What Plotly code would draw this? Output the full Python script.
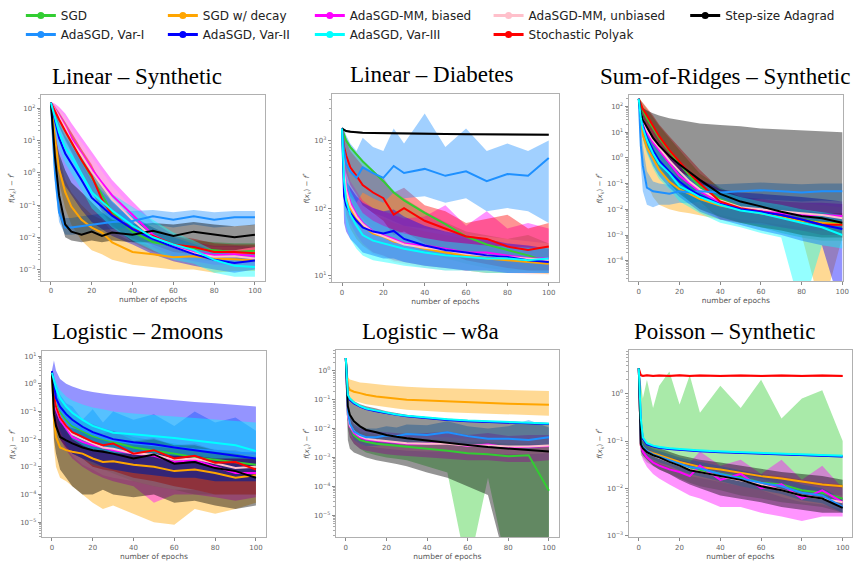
import math
import plotly.graph_objects as go

W, H = 863, 565

X = [0, 1, 2, 4, 7, 10, 15, 20, 25, 30, 40, 50, 60, 70, 80, 90, 100]

KEYS = ["sgd", "dec", "mmb", "mmu", "ada", "v1", "v2", "v3", "pol"]
NAMES = {"sgd": "SGD", "dec": "SGD w/ decay", "mmb": "AdaSGD-MM, biased",
         "mmu": "AdaSGD-MM, unbiased", "ada": "Step-size Adagrad",
         "v1": "AdaSGD, Var-I", "v2": "AdaSGD, Var-II", "v3": "AdaSGD, Var-III",
         "pol": "Stochastic Polyak"}
RGB = {"sgd": (50, 205, 50), "dec": (255, 165, 0), "mmb": (255, 0, 255),
       "mmu": (255, 192, 203), "ada": (0, 0, 0), "v1": (30, 144, 255),
       "v2": (0, 0, 255), "v3": (0, 255, 255), "pol": (255, 0, 0)}
DRAW_ORDER = ["sgd", "dec", "mmb", "mmu", "pol", "v1", "v2", "ada", "v3"]

TITLES = ["Linear – Synthetic", "Linear – Diabetes", "Sum-of-Ridges – Synthetic",
          "Logistic – 2moons", "Logistic – w8a", "Poisson – Synthetic"]

# ---------------- Panel 1: Linear - Synthetic ----------------
p1_sgd = [150, 110, 85, 50, 20, 9, 2.5, 0.7, 0.2, 0.06, 0.015, 0.007, 0.0055, 0.0045, 0.004, 0.0035, 0.0038]
p1_sgd_lo = [140, 80, 55, 28, 10, 4, 1.0, 0.25, 0.07, 0.025, 0.007, 0.0035, 0.0025, 0.002, 0.0018, 0.0015, 0.0016]
p1_sgd_hi = [160, 140, 120, 80, 38, 18, 5, 1.6, 0.5, 0.15, 0.03, 0.013, 0.01, 0.008, 0.007, 0.0065, 0.0065]
p1_dec = [150, 40, 12, 1.3, 0.25, 0.09, 0.035, 0.02, 0.014, 0.007, 0.0035, 0.003, 0.0024, 0.0026, 0.0022, 0.0021, 0.0019]
p1_dec_lo = [140, 20, 5, 0.5, 0.08, 0.025, 0.008, 0.004, 0.003, 0.002, 0.0014, 0.0012, 0.001, 0.001, 0.0008, 0.0009, 0.0009]
p1_dec_hi = [160, 70, 25, 3, 0.6, 0.25, 0.1, 0.05, 0.035, 0.015, 0.007, 0.0055, 0.0045, 0.0045, 0.004, 0.0038, 0.0035]
p1_mmb = [150, 120, 95, 60, 28, 12, 4, 1.3, 0.5, 0.2, 0.05, 0.012, 0.0055, 0.0035, 0.0028, 0.003, 0.0026]
p1_mmb_lo = [140, 90, 65, 35, 14, 5.5, 1.6, 0.45, 0.15, 0.06, 0.018, 0.005, 0.0025, 0.0018, 0.0014, 0.0014, 0.0013]
p1_mmb_hi = [160, 150, 140, 110, 70, 35, 13, 4.5, 1.6, 0.6, 0.13, 0.03, 0.012, 0.007, 0.0055, 0.0055, 0.005]
p1_mmu = [150, 115, 90, 55, 25, 10, 3.5, 1.1, 0.4, 0.15, 0.035, 0.01, 0.005, 0.0032, 0.0025, 0.0026, 0.0022]
p1_mmu_lo = [140, 85, 60, 30, 12, 4.5, 1.3, 0.35, 0.12, 0.05, 0.014, 0.004, 0.0022, 0.0016, 0.0012, 0.0012, 0.0011]
p1_mmu_hi = [160, 145, 130, 100, 55, 25, 9, 3, 1.1, 0.4, 0.08, 0.022, 0.01, 0.006, 0.005, 0.005, 0.0045]
p1_ada = [150, 20, 3, 0.2, 0.025, 0.015, 0.012, 0.015, 0.011, 0.014, 0.012, 0.016, 0.011, 0.015, 0.012, 0.01, 0.012]
p1_ada_lo = [140, 8, 1, 0.05, 0.01, 0.008, 0.007, 0.008, 0.007, 0.008, 0.007, 0.007, 0.005, 0.005, 0.004, 0.004, 0.005]
p1_ada_hi = [160, 60, 15, 4, 1.2, 0.5, 0.25, 0.12, 0.06, 0.035, 0.025, 0.028, 0.025, 0.03, 0.025, 0.022, 0.025]
p1_v1 = [150, 10, 1.0, 0.06, 0.02, 0.02, 0.022, 0.025, 0.028, 0.03, 0.032, 0.045, 0.035, 0.045, 0.035, 0.042, 0.042]
p1_v1_lo = [140, 4, 0.4, 0.03, 0.012, 0.012, 0.013, 0.015, 0.017, 0.018, 0.02, 0.025, 0.02, 0.025, 0.02, 0.022, 0.024]
p1_v1_hi = [160, 30, 3, 0.12, 0.04, 0.04, 0.045, 0.05, 0.055, 0.06, 0.065, 0.07, 0.06, 0.07, 0.06, 0.065, 0.065]
p1_v2 = [150, 80, 40, 12, 4, 2, 0.6, 0.17, 0.09, 0.047, 0.018, 0.009, 0.005, 0.003, 0.002, 0.0016, 0.0019]
p1_v2_lo = [140, 30, 8, 1.5, 0.4, 0.2, 0.07, 0.03, 0.018, 0.011, 0.006, 0.003, 0.0018, 0.0013, 0.001, 0.0008, 0.001]
p1_v2_hi = [160, 120, 80, 35, 14, 7, 2.2, 0.6, 0.28, 0.13, 0.045, 0.02, 0.01, 0.006, 0.0038, 0.003, 0.003]
p1_v3 = [150, 90, 50, 18, 6, 3.4, 0.9, 0.25, 0.13, 0.068, 0.023, 0.01, 0.006, 0.004, 0.002, 0.0013, 0.0012]
p1_v3_lo = [140, 50, 20, 6, 2, 1, 0.3, 0.08, 0.04, 0.02, 0.008, 0.004, 0.002, 0.0015, 0.0008, 0.0006, 0.0006]
p1_v3_hi = [160, 130, 100, 45, 18, 10, 3.5, 1.0, 0.45, 0.22, 0.09, 0.035, 0.014, 0.008, 0.004, 0.003, 0.003]
p1_pol = [150, 110, 80, 45, 20, 9, 2.5, 0.8, 0.15, 0.05, 0.018, 0.011, 0.006, 0.005, 0.0035, 0.0035, 0.0032]
p1_pol_lo = [140, 80, 55, 28, 11, 4.5, 1.1, 0.3, 0.06, 0.022, 0.009, 0.006, 0.0035, 0.003, 0.002, 0.002, 0.0018]
p1_pol_hi = [160, 140, 110, 75, 38, 18, 5.5, 1.8, 0.4, 0.12, 0.035, 0.02, 0.011, 0.009, 0.0065, 0.006, 0.006]

# ---------------- Panel 2: Linear - Diabetes ----------------
p2_sgd = [1500, 1200, 1000, 800, 620, 490, 350, 250, 170, 130, 85, 58, 38, 29, 24, 20, 16]
p2_sgd_lo = [1400, 400, 250, 150, 90, 70, 50, 40, 33, 28, 22, 18, 15, 13, 12, 12, 11]
p2_sgd_hi = [1600, 1300, 1100, 850, 650, 520, 370, 260, 180, 140, 90, 62, 45, 40, 35, 40, 30]
p2_dec = [1500, 300, 150, 100, 70, 55, 42, 38, 32, 30, 25, 22, 20, 18, 17, 16, 15]
p2_dec_lo = [1400, 150, 80, 50, 35, 28, 22, 20, 17, 16, 14, 13, 12, 11, 11, 11, 10.5]
p2_dec_hi = [1600, 600, 300, 200, 140, 110, 80, 70, 60, 55, 45, 40, 35, 32, 30, 28, 26]
p2_mmb = [1500, 400, 200, 120, 80, 60, 45, 40, 35, 30, 28, 25, 22, 22, 20, 18, 18]
p2_mmb_lo = [1400, 200, 100, 60, 40, 30, 22, 20, 17, 16, 14, 13, 12, 12, 11, 11, 11]
p2_mmb_hi = [1600, 800, 400, 250, 180, 130, 100, 90, 80, 70, 75, 110, 55, 90, 50, 60, 50]
p2_mmu = [1500, 350, 180, 110, 75, 58, 44, 38, 33, 29, 26, 24, 21, 20, 19, 18, 17]
p2_mmu_lo = [1400, 180, 90, 55, 38, 28, 21, 19, 16, 15, 13, 12, 12, 11, 11, 10.5, 10.5]
p2_mmu_hi = [1600, 700, 350, 220, 150, 110, 85, 75, 65, 55, 50, 45, 40, 38, 35, 33, 30]
p2_ada = [1500, 1420, 1380, 1350, 1320, 1300, 1290, 1280, 1270, 1260, 1250, 1245, 1240, 1235, 1230, 1225, 1220]
p2_ada_lo = [1450, 1370, 1330, 1300, 1280, 1260, 1250, 1240, 1230, 1220, 1210, 1205, 1200, 1195, 1190, 1185, 1180]
p2_ada_hi = [1550, 1470, 1430, 1400, 1360, 1340, 1330, 1320, 1310, 1300, 1290, 1285, 1280, 1275, 1270, 1265, 1260]
p2_v1 = [1500, 700, 450, 350, 280, 400, 330, 280, 420, 330, 380, 300, 350, 250, 320, 300, 550]
p2_v1_lo = [1400, 300, 200, 150, 120, 170, 140, 120, 170, 140, 150, 120, 140, 90, 100, 90, 60]
p2_v1_hi = [1600, 1500, 1200, 900, 700, 1100, 800, 700, 1500, 900, 2500, 800, 1500, 700, 900, 700, 1000]
p2_v2 = [1500, 150, 110, 85, 65, 52, 45, 42, 46, 35, 28, 24, 22, 20, 19, 17, 16]
p2_v2_lo = [1400, 60, 45, 35, 28, 22, 20, 18, 18, 16, 14, 13, 12, 12, 11, 11, 11]
p2_v2_hi = [1600, 350, 250, 200, 150, 120, 100, 90, 95, 75, 55, 45, 40, 35, 30, 28, 25]
p2_v3 = [1500, 250, 130, 80, 55, 40, 33, 30, 27, 25, 22, 20, 19, 18, 18, 17, 18]
p2_v3_lo = [1400, 100, 55, 35, 25, 20, 17, 16, 15, 14, 13, 12, 12, 11, 11, 11, 11]
p2_v3_hi = [1600, 500, 300, 180, 120, 85, 65, 55, 48, 42, 36, 32, 30, 28, 27, 26, 26]
p2_pol = [1500, 800, 600, 400, 300, 220, 170, 140, 80, 100, 65, 50, 38, 35, 27, 24, 27]
p2_pol_lo = [1400, 450, 330, 220, 160, 110, 85, 65, 40, 45, 30, 22, 17, 15, 13, 12, 12]
p2_pol_hi = [1600, 1200, 1000, 700, 550, 420, 330, 280, 170, 200, 110, 90, 60, 70, 80, 50, 60]

# ---------------- Panel 3: Sum-of-Ridges - Synthetic ----------------
p3_sgd = [200, 110, 70, 35, 14, 6, 1.8, 0.6, 0.2, 0.08, 0.025, 0.012, 0.008, 0.005, 0.004, 0.003, 0.0028]
p3_sgd_lo = [180, 50, 25, 10, 3.5, 1.3, 0.35, 0.1, 0.035, 0.015, 0.005, 0.003, 0.002, 0.0012, 0.0008, 0.0006, 0.0006]
p3_sgd_hi = [220, 170, 130, 80, 40, 18, 6, 2, 0.7, 0.25, 0.07, 0.03, 0.018, 0.012, 0.009, 0.007, 0.006]
p3_dec = [200, 30, 8, 2.5, 0.9, 0.35, 0.12, 0.06, 0.04, 0.025, 0.014, 0.01, 0.007, 0.005, 0.0035, 0.003, 0.0025]
p3_dec_lo = [180, 5, 0.8, 0.1, 0.03, 0.015, 0.01, 0.008, 0.007, 0.006, 0.004, 0.003, 0.002, 0.0015, 0.001, 1e-6, 0.0008]
p3_dec_hi = [220, 120, 50, 18, 7, 3, 1, 0.4, 0.2, 0.1, 0.04, 0.025, 0.018, 0.012, 0.008, 0.007, 0.006]
p3_mmb = [200, 50, 25, 10, 4, 2, 0.6, 0.2, 0.1, 0.05, 0.018, 0.01, 0.009, 0.007, 0.006, 0.006, 0.0055]
p3_mmb_lo = [180, 20, 8, 3, 1, 0.5, 0.15, 0.05, 0.02, 0.01, 0.004, 0.003, 0.0025, 0.002, 0.0015, 0.0015, 0.0015]
p3_mmb_hi = [220, 100, 60, 25, 12, 6, 2, 0.7, 0.3, 0.15, 0.05, 0.03, 0.025, 0.02, 0.018, 0.018, 0.016]
p3_mmu = [200, 60, 30, 12, 5, 2.5, 0.8, 0.3, 0.12, 0.06, 0.022, 0.012, 0.01, 0.008, 0.007, 0.006, 0.0045]
p3_mmu_lo = [180, 25, 10, 4, 1.5, 0.7, 0.2, 0.07, 0.03, 0.015, 0.006, 0.004, 0.003, 0.0025, 0.002, 0.002, 0.0015]
p3_mmu_hi = [220, 120, 70, 30, 14, 7, 2.5, 0.9, 0.4, 0.18, 0.06, 0.03, 0.025, 0.02, 0.018, 0.015, 0.012]
p3_ada = [200, 60, 30, 15, 6, 3, 1.2, 0.55, 0.27, 0.14, 0.04, 0.02, 0.013, 0.008, 0.0055, 0.0045, 0.003]
p3_ada_lo = [180, 20, 8, 3, 1, 0.4, 0.1, 0.04, 0.02, 0.01, 0.005, 0.003, 0.002, 0.0015, 0.001, 0.0008, 0.0008]
p3_ada_hi = [220, 110, 90, 70, 55, 45, 35, 30, 26, 22, 19, 17, 14, 13, 12, 11, 10]
p3_v1 = [200, 3, 0.5, 0.07, 0.05, 0.045, 0.04, 0.05, 0.045, 0.05, 0.045, 0.05, 0.055, 0.05, 0.045, 0.05, 0.05]
p3_v1_lo = [180, 0.5, 0.05, 0.015, 0.012, 0.015, 0.015, 0.018, 0.017, 0.02, 0.02, 0.022, 0.025, 0.022, 0.02, 0.022, 0.02]
p3_v1_hi = [220, 15, 3, 0.3, 0.12, 0.1, 0.09, 0.1, 0.095, 0.1, 0.095, 0.1, 0.11, 0.1, 0.095, 0.1, 0.1]
p3_v2 = [200, 40, 18, 6, 2, 0.8, 0.3, 0.12, 0.06, 0.035, 0.016, 0.01, 0.008, 0.006, 0.004, 0.0025, 0.0017]
p3_v2_lo = [180, 15, 6, 1.8, 0.5, 0.2, 0.07, 0.03, 0.015, 0.008, 0.004, 0.0025, 0.0015, 0.001, 0.0006, 0.0004, 1e-6]
p3_v2_hi = [220, 90, 45, 18, 7, 3, 1.2, 0.5, 0.25, 0.15, 0.06, 0.045, 0.04, 0.035, 0.03, 0.025, 0.02]
p3_v3 = [200, 35, 15, 5, 1.5, 0.6, 0.25, 0.08, 0.05, 0.03, 0.015, 0.009, 0.007, 0.0045, 0.003, 0.002, 0.001]
p3_v3_lo = [180, 12, 5, 1.5, 0.4, 0.15, 0.06, 0.02, 0.012, 0.007, 0.003, 0.002, 0.0012, 0.0008, 1e-6, 0.0004, 0.0003]
p3_v3_hi = [220, 80, 40, 15, 5, 2, 0.8, 0.3, 0.18, 0.1, 0.05, 0.03, 0.02, 0.015, 0.01, 0.008, 0.006]
p3_pol = [200, 120, 80, 45, 18, 7, 2, 0.7, 0.25, 0.1, 0.02, 0.011, 0.008, 0.006, 0.004, 0.0025, 0.0025]
p3_pol_lo = [180, 70, 40, 18, 6, 2, 0.5, 0.15, 0.05, 0.02, 0.004, 0.003, 0.003, 0.002, 0.0015, 0.001, 0.001]
p3_pol_hi = [220, 180, 140, 90, 45, 20, 7, 2.5, 0.9, 0.35, 0.06, 0.03, 0.02, 0.015, 0.01, 0.007, 0.007]

# ---------------- Panel 4: Logistic - 2moons ----------------
p4_sgd = [2.5, 0.8, 0.3, 0.1, 0.05, 0.03, 0.02, 0.013, 0.01, 0.008, 0.005, 0.0038, 0.003, 0.0022, 0.0018, 0.0014, 0.0012]
p4_sgd_lo = [2.3, 0.2, 0.06, 0.02, 0.008, 0.004, 0.002, 0.001, 0.0008, 0.0006, 0.0003, 0.0002, 0.00015, 0.0001, 0.0001, 0.0001, 0.0001]
p4_sgd_hi = [2.7, 1.5, 0.7, 0.3, 0.15, 0.08, 0.05, 0.035, 0.025, 0.02, 0.012, 0.009, 0.007, 0.005, 0.004, 0.0035, 0.003]
p4_dec = [2.5, 0.05, 0.012, 0.005, 0.004, 0.0035, 0.003, 0.002, 0.0015, 0.0016, 0.0012, 0.001, 0.0007, 0.0008, 0.0006, 0.0004, 0.0005]
p4_dec_lo = [2.3, 0.005, 0.001, 0.0004, 0.0003, 0.0002, 0.0001, 0.00005, 0.00003, 0.00004, 0.00002, 0.00001, 0.000008, 0.00003, 0.00002, 0.00003, 0.00005]
p4_dec_hi = [2.7, 0.15, 0.04, 0.015, 0.012, 0.01, 0.009, 0.006, 0.005, 0.005, 0.004, 0.0035, 0.0025, 0.003, 0.0022, 0.0018, 0.002]
p4_mmb = [2.5, 0.4, 0.12, 0.05, 0.025, 0.012, 0.008, 0.006, 0.005, 0.004, 0.003, 0.0025, 0.0015, 0.0018, 0.001, 0.0006, 0.0006]
p4_mmb_lo = [2.3, 0.1, 0.03, 0.01, 0.004, 0.002, 0.001, 0.0006, 0.0004, 0.0003, 0.0002, 0.00005, 0.0001, 0.0001, 0.00008, 0.00006, 0.00008]
p4_mmb_hi = [2.7, 1.0, 0.35, 0.15, 0.08, 0.04, 0.025, 0.018, 0.014, 0.011, 0.008, 0.007, 0.005, 0.006, 0.004, 0.003, 0.003]
p4_mmu = [2.5, 0.5, 0.15, 0.06, 0.03, 0.015, 0.01, 0.007, 0.005, 0.0045, 0.003, 0.0028, 0.0018, 0.002, 0.0013, 0.0009, 0.001]
p4_mmu_lo = [2.3, 0.12, 0.04, 0.012, 0.005, 0.0025, 0.0012, 0.0008, 0.0005, 0.0004, 0.0003, 0.0002, 0.00015, 0.00015, 0.0001, 0.0001, 0.0001]
p4_mmu_hi = [2.7, 1.2, 0.4, 0.18, 0.09, 0.05, 0.03, 0.02, 0.015, 0.012, 0.009, 0.008, 0.006, 0.006, 0.0045, 0.0035, 0.0035]
p4_ada = [2.5, 0.08, 0.03, 0.012, 0.009, 0.007, 0.005, 0.004, 0.0035, 0.003, 0.002, 0.0028, 0.0013, 0.0015, 0.0009, 0.0007, 0.0004]
p4_ada_lo = [2.3, 0.01, 0.003, 0.0008, 0.0004, 0.0002, 0.0001, 0.0001, 0.00015, 0.0001, 0.00008, 0.0001, 0.00005, 0.00006, 0.00004, 0.00003, 0.00004]
p4_ada_hi = [2.7, 0.3, 0.1, 0.04, 0.03, 0.025, 0.02, 0.015, 0.012, 0.01, 0.008, 0.01, 0.006, 0.006, 0.004, 0.003, 0.002]
p4_v1 = [2.5, 0.9, 0.35, 0.12, 0.06, 0.035, 0.022, 0.015, 0.011, 0.009, 0.007, 0.006, 0.005, 0.0042, 0.0038, 0.0032, 0.003]
p4_v1_lo = [2.3, 0.3, 0.08, 0.02, 0.006, 0.003, 0.002, 0.0012, 0.001, 0.0008, 0.0006, 0.0005, 0.0004, 0.0004, 0.0003, 0.0003, 0.0003]
p4_v1_hi = [2.7, 2, 1, 0.4, 0.2, 0.15, 0.05, 0.12, 0.04, 0.1, 0.05, 0.08, 0.03, 0.1, 0.04, 0.06, 0.02]
p4_v2 = [2.9, 0.8, 0.3, 0.15, 0.08, 0.05, 0.028, 0.018, 0.013, 0.01, 0.0078, 0.0065, 0.005, 0.004, 0.0032, 0.0026, 0.002]
p4_v2_lo = [2.5, 0.1, 0.03, 0.01, 0.005, 0.003, 0.002, 0.0015, 0.001, 0.0008, 0.0006, 0.0005, 0.0004, 0.0004, 0.0003, 0.0003, 0.0003]
p4_v2_hi = [3, 7, 3, 1.5, 1.0, 0.8, 0.6, 0.5, 0.45, 0.4, 0.35, 0.3, 0.25, 0.22, 0.2, 0.17, 0.15]
p4_v3 = [2.5, 1.2, 0.7, 0.3, 0.15, 0.09, 0.05, 0.03, 0.022, 0.017, 0.015, 0.013, 0.011, 0.009, 0.0075, 0.006, 0.0037]
p4_v3_lo = [2.3, 0.5, 0.2, 0.05, 0.02, 0.01, 0.006, 0.004, 0.004, 0.003, 0.003, 0.003, 0.0025, 0.0025, 0.002, 0.002, 0.002]
p4_v3_hi = [2.7, 2, 1.2, 0.6, 0.35, 0.25, 0.18, 0.14, 0.12, 0.1, 0.085, 0.075, 0.065, 0.058, 0.05, 0.045, 0.04]
p4_pol = [2.5, 0.4, 0.15, 0.06, 0.03, 0.018, 0.012, 0.008, 0.006, 0.007, 0.003, 0.004, 0.002, 0.0025, 0.0014, 0.0015, 0.0008]
p4_pol_lo = [2.3, 0.1, 0.03, 0.01, 0.005, 0.003, 0.002, 0.001, 0.0008, 0.0007, 0.0004, 0.0003, 0.0002, 0.00015, 0.0001, 0.0001, 0.0001]
p4_pol_hi = [2.7, 1.0, 0.4, 0.15, 0.08, 0.05, 0.03, 0.02, 0.016, 0.02, 0.009, 0.011, 0.006, 0.007, 0.004, 0.004, 0.0025]

# ---------------- Panel 5: Logistic - w8a ----------------
p5_sgd = [2.8, 0.03, 0.012, 0.006, 0.004, 0.0035, 0.003, 0.0028, 0.0025, 0.0024, 0.002, 0.0017, 0.0014, 0.0013, 0.0011, 0.0012, 0.00007]
p5_sgd_lo = [2.7, 0.01, 0.005, 0.003, 0.002, 0.0015, 0.0012, 0.001, 0.0009, 0.0008, 0.0005, 0.0003, 1e-7, 0.0002, 1e-7, 1e-7, 1e-7]
p5_sgd_hi = [2.9, 0.06, 0.025, 0.012, 0.008, 0.007, 0.006, 0.0055, 0.005, 0.005, 0.0045, 0.004, 0.0035, 0.0035, 0.003, 0.003, 0.0025]
p5_dec = [2.8, 0.3, 0.22, 0.19, 0.17, 0.15, 0.13, 0.12, 0.11, 0.1, 0.095, 0.088, 0.082, 0.078, 0.073, 0.07, 0.067]
p5_dec_lo = [2.7, 0.12, 0.1, 0.09, 0.08, 0.07, 0.06, 0.055, 0.05, 0.045, 0.04, 0.037, 0.035, 0.033, 0.031, 0.03, 0.028]
p5_dec_hi = [2.9, 0.6, 0.5, 0.45, 0.4, 0.38, 0.34, 0.32, 0.3, 0.28, 0.26, 0.25, 0.24, 0.22, 0.21, 0.21, 0.2]
p5_mmb = [2.8, 0.03, 0.012, 0.007, 0.005, 0.0042, 0.0038, 0.0035, 0.0033, 0.003, 0.003, 0.0032, 0.0025, 0.0028, 0.0022, 0.0024, 0.0025]
p5_mmb_lo = [2.7, 0.012, 0.005, 0.003, 0.002, 0.0017, 0.0015, 0.0013, 0.0012, 0.0011, 0.001, 0.0009, 0.0008, 0.0008, 0.0007, 0.0007, 0.0008]
p5_mmb_hi = [2.9, 0.06, 0.025, 0.014, 0.01, 0.009, 0.008, 0.0075, 0.007, 0.0065, 0.007, 0.008, 0.006, 0.007, 0.0055, 0.006, 0.006]
p5_mmu = [2.8, 0.035, 0.013, 0.008, 0.0055, 0.0045, 0.004, 0.0037, 0.0034, 0.0031, 0.003, 0.003, 0.0026, 0.0026, 0.0024, 0.0024, 0.0026]
p5_mmu_lo = [2.7, 0.015, 0.006, 0.004, 0.003, 0.0025, 0.0022, 0.002, 0.0019, 0.0017, 0.0016, 0.0016, 0.0014, 0.0014, 0.0013, 0.0013, 0.0014]
p5_mmu_hi = [2.9, 0.07, 0.025, 0.014, 0.009, 0.0075, 0.0068, 0.006, 0.0055, 0.005, 0.005, 0.005, 0.0045, 0.0045, 0.004, 0.004, 0.0045]
p5_ada = [2.8, 0.06, 0.03, 0.018, 0.012, 0.009, 0.0075, 0.006, 0.0052, 0.0046, 0.0039, 0.0032, 0.0027, 0.0023, 0.002, 0.0018, 0.0016]
p5_ada_lo = [2.7, 0.004, 0.002, 0.0015, 0.0012, 0.001, 0.0008, 0.0007, 0.0006, 0.0005, 0.0003, 0.0002, 0.0001, 0.00005, 1e-7, 1e-7, 1e-7]
p5_ada_hi = [2.9, 0.15, 0.12, 0.09, 0.07, 0.06, 0.05, 0.04, 0.035, 0.03, 0.025, 0.022, 0.02, 0.018, 0.016, 0.015, 0.015]
p5_v1 = [2.8, 0.04, 0.015, 0.008, 0.006, 0.005, 0.005, 0.0058, 0.0055, 0.0065, 0.006, 0.0075, 0.0055, 0.0045, 0.0045, 0.004, 0.005]
p5_v1_lo = [2.7, 0.02, 0.008, 0.004, 0.003, 0.0025, 0.0025, 0.003, 0.0028, 0.0032, 0.003, 0.0035, 0.0027, 0.0022, 0.0022, 0.002, 0.0025]
p5_v1_hi = [2.9, 0.08, 0.03, 0.015, 0.012, 0.01, 0.01, 0.012, 0.011, 0.014, 0.013, 0.018, 0.012, 0.01, 0.012, 0.02, 0.011]
p5_v2 = [2.8, 0.14, 0.1, 0.075, 0.058, 0.048, 0.04, 0.034, 0.03, 0.027, 0.023, 0.02, 0.018, 0.017, 0.016, 0.015, 0.0145]
p5_v2_lo = [2.7, 0.13, 0.095, 0.071, 0.055, 0.046, 0.038, 0.032, 0.028, 0.026, 0.022, 0.019, 0.017, 0.016, 0.015, 0.014, 0.0138]
p5_v2_hi = [2.9, 0.15, 0.105, 0.079, 0.061, 0.05, 0.042, 0.036, 0.032, 0.028, 0.024, 0.021, 0.019, 0.018, 0.017, 0.016, 0.0152]
p5_v3 = [2.8, 0.15, 0.11, 0.08, 0.06, 0.05, 0.042, 0.035, 0.031, 0.028, 0.024, 0.021, 0.019, 0.018, 0.017, 0.016, 0.015]
p5_v3_lo = [2.7, 0.14, 0.1, 0.076, 0.057, 0.048, 0.04, 0.033, 0.029, 0.027, 0.023, 0.02, 0.018, 0.017, 0.016, 0.015, 0.0143]
p5_v3_hi = [2.9, 0.16, 0.115, 0.084, 0.063, 0.053, 0.044, 0.037, 0.033, 0.029, 0.025, 0.022, 0.02, 0.019, 0.018, 0.017, 0.0158]

# ---------------- Panel 6: Poisson - Synthetic ----------------
p6_sgd = [3.5, 0.09, 0.075, 0.06, 0.05, 0.045, 0.038, 0.032, 0.026, 0.024, 0.02, 0.017, 0.013, 0.012, 0.009, 0.008, 0.006]
p6_sgd_lo = [3.4, 0.05, 0.045, 0.035, 0.03, 0.025, 0.02, 0.016, 0.013, 0.011, 0.009, 0.007, 0.006, 0.005, 0.0045, 0.004, 0.003]
p6_sgd_hi = [3.6, 1.5, 0.8, 2.0, 0.5, 1.5, 3.0, 0.6, 2.5, 0.4, 1.5, 0.5, 2.0, 0.3, 0.8, 1.2, 0.1]
p6_dec = [3.5, 0.08, 0.07, 0.062, 0.055, 0.05, 0.042, 0.036, 0.032, 0.028, 0.025, 0.021, 0.018, 0.016, 0.014, 0.012, 0.011]
p6_dec_lo = [3.4, 0.075, 0.065, 0.058, 0.051, 0.046, 0.039, 0.033, 0.029, 0.026, 0.023, 0.019, 0.016, 0.014, 0.013, 0.011, 0.01]
p6_dec_hi = [3.6, 0.085, 0.075, 0.066, 0.059, 0.054, 0.045, 0.039, 0.035, 0.03, 0.027, 0.023, 0.02, 0.018, 0.015, 0.013, 0.012]
p6_mmb = [3.5, 0.08, 0.06, 0.045, 0.035, 0.03, 0.025, 0.022, 0.018, 0.03, 0.015, 0.02, 0.01, 0.012, 0.006, 0.009, 0.005]
p6_mmb_lo = [3.4, 0.06, 0.04, 0.028, 0.02, 0.016, 0.012, 0.009, 0.007, 0.006, 0.004, 0.004, 0.003, 0.0025, 0.002, 0.0025, 0.0025]
p6_mmb_hi = [3.6, 0.1, 0.08, 0.07, 0.06, 0.05, 0.045, 0.04, 0.035, 0.06, 0.03, 0.04, 0.02, 0.04, 0.015, 0.03, 0.01]
p6_mmu = [3.5, 0.085, 0.07, 0.058, 0.05, 0.044, 0.036, 0.03, 0.025, 0.022, 0.018, 0.015, 0.012, 0.009, 0.007, 0.006, 0.005]
p6_mmu_lo = [3.4, 0.07, 0.055, 0.045, 0.038, 0.033, 0.027, 0.022, 0.018, 0.016, 0.013, 0.011, 0.009, 0.0065, 0.005, 0.0045, 0.0035]
p6_mmu_hi = [3.6, 0.1, 0.085, 0.072, 0.062, 0.055, 0.045, 0.038, 0.032, 0.029, 0.024, 0.02, 0.016, 0.012, 0.0095, 0.008, 0.007]
p6_ada = [3.5, 0.085, 0.07, 0.058, 0.05, 0.045, 0.036, 0.03, 0.024, 0.022, 0.018, 0.015, 0.011, 0.009, 0.007, 0.006, 0.0038]
p6_ada_lo = [3.4, 0.06, 0.05, 0.04, 0.03, 0.025, 0.02, 0.015, 0.012, 0.01, 0.007, 0.006, 0.005, 0.004, 0.0035, 0.003, 0.003]
p6_ada_hi = [3.6, 0.12, 0.1, 0.09, 0.08, 0.07, 0.06, 0.05, 0.045, 0.04, 0.035, 0.03, 0.025, 0.022, 0.02, 0.018, 0.015]
p6_v1 = [3.5, 0.09, 0.075, 0.062, 0.052, 0.047, 0.04, 0.033, 0.028, 0.026, 0.02, 0.016, 0.013, 0.011, 0.008, 0.007, 0.004]
p6_v1_lo = [3.4, 0.07, 0.058, 0.048, 0.04, 0.035, 0.03, 0.024, 0.02, 0.018, 0.014, 0.011, 0.009, 0.0075, 0.0055, 0.0048, 0.003]
p6_v1_hi = [3.6, 0.11, 0.095, 0.08, 0.068, 0.062, 0.052, 0.045, 0.04, 0.036, 0.03, 0.024, 0.02, 0.016, 0.012, 0.01, 0.006]
p6_v2 = [3.5, 0.25, 0.11, 0.085, 0.077, 0.072, 0.068, 0.065, 0.063, 0.061, 0.058, 0.056, 0.054, 0.052, 0.05, 0.048, 0.047]
p6_v2_lo = [3.4, 0.23, 0.105, 0.082, 0.074, 0.069, 0.065, 0.062, 0.06, 0.058, 0.056, 0.054, 0.052, 0.05, 0.048, 0.046, 0.045]
p6_v2_hi = [3.6, 0.27, 0.115, 0.088, 0.08, 0.075, 0.071, 0.068, 0.066, 0.064, 0.06, 0.058, 0.056, 0.054, 0.052, 0.05, 0.049]
p6_v3 = [3.5, 0.3, 0.12, 0.09, 0.08, 0.075, 0.07, 0.067, 0.065, 0.063, 0.06, 0.058, 0.056, 0.054, 0.052, 0.05, 0.049]
p6_v3_lo = [3.4, 0.28, 0.115, 0.087, 0.077, 0.072, 0.067, 0.064, 0.062, 0.06, 0.058, 0.056, 0.054, 0.052, 0.05, 0.048, 0.047]
p6_v3_hi = [3.6, 0.32, 0.125, 0.093, 0.083, 0.078, 0.073, 0.07, 0.068, 0.066, 0.062, 0.06, 0.058, 0.056, 0.054, 0.052, 0.051]
p6_pol = [3.5, 2.5, 2.4, 2.5, 2.4, 2.45, 2.4, 2.5, 2.4, 2.45, 2.4, 2.45, 2.4, 2.45, 2.4, 2.45, 2.4]
p6_pol_lo = [3.4, 2.35, 2.3, 2.35, 2.3, 2.3, 2.3, 2.35, 2.3, 2.3, 2.3, 2.3, 2.3, 2.3, 2.3, 2.3, 2.3]
p6_pol_hi = [3.6, 2.65, 2.55, 2.6, 2.55, 2.6, 2.55, 2.6, 2.55, 2.6, 2.55, 2.6, 2.55, 2.6, 2.55, 2.6, 2.55]

# ---------------- layout (pixel boxes of each axes) ----------------
BOXES = [  # left, right, top, bottom (px)
    (41, 267, 96, 282), (334, 563, 95, 284), (633, 849, 96, 283),
    (42, 268, 353, 540), (338, 563, 352, 540), (633, 858, 352, 540)]
XRANGES = [[-5, 105], [-5, 105], [-5, 100.4], [-5, 105], [-5, 105], [-5, 104.6]]
YRANGES = [[-3.34, 2.4], [0.9, 3.68], [-4.81, 2.43], [-5.54, 1.18], [-5.76, 0.72], [-3.04, 0.93]]
TITLE_POS = [(138, 77), (435, 75), (730, 77), (138, 333), (434, 333), (730, 333)]

g = globals()
fig = go.Figure()


def rgba(k, a):
    r, gg, b = RGB[k]
    return f"rgba({r},{gg},{b},{a})"


for i in range(1, 7):
    xa = "x" if i == 1 else f"x{i}"
    ya = "y" if i == 1 else f"y{i}"
    for k in DRAW_ORDER:
        if f"p{i}_{k}" not in g:
            continue
        lo = g[f"p{i}_{k}_lo"]
        hi = g[f"p{i}_{k}_hi"]
        fig.add_trace(go.Scatter(
            x=X + X[::-1], y=hi + lo[::-1], mode="lines", fill="toself",
            fillcolor=rgba(k, 0.42), line=dict(width=0), hoverinfo="skip",
            showlegend=False, xaxis=xa, yaxis=ya))
    for k in DRAW_ORDER:
        if f"p{i}_{k}" not in g:
            continue
        fig.add_trace(go.Scatter(
            x=X, y=g[f"p{i}_{k}"], mode="lines",
            line=dict(color=rgba(k, 1), width=2),
            showlegend=False, name=NAMES[k], xaxis=xa, yaxis=ya))

# legend entries (five columns)
LEG_COLS = [["sgd", "v1"], ["dec", "v2"], ["mmb", "v3"], ["mmu", "pol"], ["ada"]]
LEG_X = [21, 164, 312, 492, 690]
for c, col in enumerate(LEG_COLS):
    lname = "legend" if c == 0 else f"legend{c + 1}"
    for k in col:
        fig.add_trace(go.Scatter(
            x=[None], y=[None], mode="lines+markers", name=NAMES[k],
            line=dict(color=rgba(k, 1), width=3),
            marker=dict(color=rgba(k, 1), size=7, symbol="circle"),
            legend=lname, showlegend=True))

layout = dict(width=W, height=H, margin=dict(l=0, r=0, t=0, b=0),
              paper_bgcolor="white", plot_bgcolor="white", showlegend=True,
              font=dict(family="DejaVu Sans", color="#444"))

for c in range(5):
    lname = "legend" if c == 0 else f"legend{c + 1}"
    layout[lname] = dict(
        x=LEG_X[c] / W, y=1 - 1 / H, xanchor="left", yanchor="top",
        orientation="v", bgcolor="rgba(0,0,0,0)", borderwidth=0,
        font=dict(family="DejaVu Sans", size=12, color="#222"),
        itemwidth=30, tracegroupgap=0)


def sup(k):
    return "10<sup>" + (("\u2212" + str(-k)) if k < 0 else str(k)) + "</sup>"


annotations = []
for i in range(1, 7):
    l, r, t, b = BOXES[i - 1]
    xk = "xaxis" if i == 1 else f"xaxis{i}"
    yk = "yaxis" if i == 1 else f"yaxis{i}"
    ya = "y" if i == 1 else f"y{i}"
    xa = "x" if i == 1 else f"x{i}"
    ylo, yhi = YRANGES[i - 1]
    decades = list(range(math.ceil(ylo), math.floor(yhi) + 1))
    minor_vals = [m * 10 ** k for k in range(math.floor(ylo), math.ceil(yhi) + 1)
                  for m in range(2, 10)]
    layout[xk] = dict(
        domain=[l / W, r / W], anchor=ya, range=XRANGES[i - 1],
        tickvals=[0, 20, 40, 60, 80, 100], ticks="outside", ticklen=3,
        tickcolor="#888", tickfont=dict(size=7, color="#666"),
        showline=True, linecolor="#b0b0b0", linewidth=1, mirror=True,
        showgrid=False, zeroline=False,
        title=dict(text="number of epochs", font=dict(size=7.5, color="#555"), standoff=2))
    layout[yk] = dict(
        domain=[1 - b / H, 1 - t / H], anchor=xa, type="log", range=[ylo, yhi],
        tickmode="array", tickvals=[10 ** k for k in decades],
        ticktext=[sup(k) for k in decades],
        ticks="outside", ticklen=3, tickcolor="#888",
        tickfont=dict(size=7, color="#666"),
        minor=dict(tickmode="array", tickvals=minor_vals, ticks="outside",
                   ticklen=1.5, tickcolor="#aaa"),
        showline=True, linecolor="#b0b0b0", linewidth=1, mirror=True,
        showgrid=False, zeroline=False,
        title=dict(text="<i>f</i>(<i>x</i><sub><i>k</i></sub>) − <i>f</i><sup>*</sup>",
                   font=dict(size=7, color="#555"), standoff=3))
    tx, ty = TITLE_POS[i - 1]
    annotations.append(dict(
        text=TITLES[i - 1], x=tx / W, y=1 - ty / H, xref="paper", yref="paper",
        xanchor="center", yanchor="middle", showarrow=False,
        font=dict(family="Liberation Serif", size=23, color="black")))

layout["annotations"] = annotations
fig.update_layout(**layout)
fig.write_html("out.html")
